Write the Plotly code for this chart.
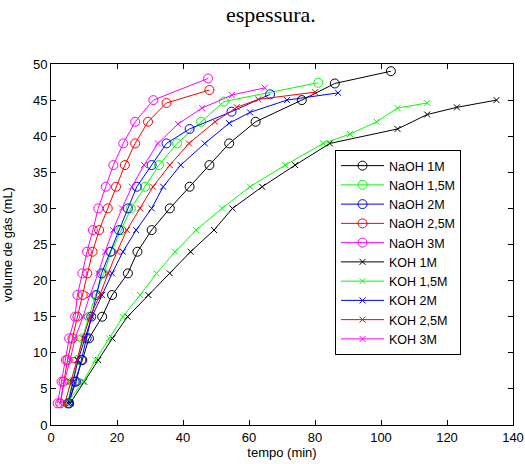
import plotly.graph_objects as go

# NaOH series (circles)
naoh1_x = [5.5, 7.2, 9.5, 11.5, 15.5, 18.5, 23.3, 26.2, 30.5, 36, 42, 48, 54, 62, 76, 86, 103]
naoh1_y = [3, 6, 9, 12, 15, 18, 21, 24, 27, 30, 33, 36, 39, 42, 45, 47.3, 49]

naoh15_x = [5, 6.5, 8, 9.5, 11.5, 13.5, 16, 18.2, 21.3, 24.2, 28.5, 32.7, 38.2, 45.5, 52.4, 81]
naoh15_y = [3, 6, 9, 12, 15, 18, 21, 24, 27, 30, 33, 36, 39, 42, 44.8, 47.4]

naoh2_x = [5.2, 7.6, 9.2, 10.8, 12.2, 13.8, 15.3, 18, 20.6, 23.3, 26, 30.5, 35, 42, 54.7, 66.4]
naoh2_y = [3, 6, 9, 12, 15, 18, 21, 24, 27, 30, 33, 36, 39, 41, 43.4, 45.8]

naoh25_x = [2.8, 3.8, 5, 6.5, 8, 9.6, 11, 12.6, 14.6, 17.2, 19.7, 22.4, 25.5, 29.4, 35, 48]
naoh25_y = [3, 6, 9, 12, 15, 18, 21, 24, 27, 30, 33, 36, 39, 42, 44.6, 46.4]

naoh3_x = [2, 3.2, 4.5, 5.5, 7.3, 8, 9.5, 10.9, 12.7, 14.3, 16.6, 18.9, 21.9, 25.5, 31, 47.6]
naoh3_y = [3, 6, 9, 12, 15, 18, 21, 24, 27, 30, 33, 36, 39, 42, 45, 48]

# KOH series (x markers)
koh1_x = [5.8, 10, 14.3, 18.6, 23.2, 29.5, 36, 42.3, 49.4, 55, 64, 74, 84.5, 105, 114, 123, 135]
koh1_y = [3, 6, 9, 12, 15, 18, 21, 24, 27, 30, 33, 36, 39, 41, 43, 44, 45]

koh15_x = [4.8, 9.7, 13.5, 17.6, 21.8, 27, 32, 37.6, 44, 51.8, 60.3, 71, 82.5, 90.6, 98.7, 105, 114]
koh15_y = [3, 6, 9, 12, 15, 18, 21, 24, 27, 30, 33, 36, 39, 40.3, 42, 43.9, 44.6]

koh2_x = [5.2, 6.8, 8.2, 10.3, 12.4, 15.5, 18.5, 21.8, 25.8, 30.5, 34, 39.3, 46.6, 54, 60.3, 71.5, 87]
koh2_y = [3, 6, 9, 12, 15, 18, 21, 24, 27, 30, 33, 36, 39, 41.8, 43.3, 45, 46]

koh25_x = [4.2, 6, 7.9, 9.7, 11.8, 14.8, 17.3, 20, 23, 27, 30.9, 36, 41.8, 49.7, 56.3, 62.8, 80]
koh25_y = [3, 6, 9, 12, 15, 18, 21, 24, 27, 30, 33, 36, 39, 42, 44, 45.1, 46.1]

koh3_x = [2.8, 4, 5.8, 7.3, 9.7, 11.8, 14.3, 16.4, 18.8, 21.5, 24.5, 28.2, 32.4, 38.5, 45.8, 54.8, 64.8]
koh3_y = [3, 6, 9, 12, 15, 18, 21, 24, 27, 30, 33, 36, 39, 41.7, 43.9, 45.7, 46.7]

names = ["NaOH 1M", "NaOH 1,5M", "NaOH 2M", "NaOH 2,5M", "NaOH 3M",
         "KOH 1M", "KOH 1,5M", "KOH 2M", "KOH 2,5M", "KOH 3M"]
colors = ["#000000", "#00ff00", "#0000ff", "#ff0000", "#ff00ff"]
xs = [naoh1_x, naoh15_x, naoh2_x, naoh25_x, naoh3_x, koh1_x, koh15_x, koh2_x, koh25_x, koh3_x]
ys = [naoh1_y, naoh15_y, naoh2_y, naoh25_y, naoh3_y, koh1_y, koh15_y, koh2_y, koh25_y, koh3_y]

fig = go.Figure()
for i, (n, x, y) in enumerate(zip(names, xs, ys)):
    c = colors[i % 5]
    is_naoh = i < 5
    fig.add_trace(go.Scatter(
        x=x, y=y, name=n, mode="lines+markers",
        line=dict(color=c, width=1),
        marker=dict(symbol="circle-open" if is_naoh else "x-thin-open",
                    size=9 if is_naoh else 6, color=c, line=dict(color=c, width=1)),
    ))

axis_font = dict(family="Arial, Liberation Sans, sans-serif", size=13, color="#000")
fig.update_xaxes(range=[0, 140], dtick=20, tick0=0, showgrid=False, zeroline=False,
                 showline=True, linecolor="black", linewidth=1, mirror="ticks",
                 ticks="inside", ticklen=5, tickcolor="black", tickfont=axis_font,
                 automargin=False,
                 title=dict(text="tempo (min)", font=axis_font, standoff=2))
fig.update_yaxes(range=[0, 50], dtick=5, tick0=0, showgrid=False, zeroline=False,
                 showline=True, linecolor="black", linewidth=1, mirror="ticks",
                 ticks="inside", ticklen=5, tickcolor="black", tickfont=axis_font,
                 automargin=False,
                 title=dict(text="volume de gás (mL)", font=axis_font, standoff=20))

plot_w = 462
plot_h = 361
fig.update_layout(
    width=525, height=464,
    margin=dict(l=51, r=12, t=64, b=39, autoexpand=False),
    paper_bgcolor="white", plot_bgcolor="white",
    legend=dict(x=(335 - 51) / plot_w, y=(425 - 150) / plot_h, xanchor="left", yanchor="top",
                bgcolor="white", bordercolor="black", borderwidth=1, itemwidth=43,
                font=dict(family="Arial, Liberation Sans, sans-serif", size=12.5, color="#000"),
                tracegroupgap=0),
    annotations=[dict(text="espessura.",
                      x=(271 - 51) / plot_w, y=1 + (64 - 15) / plot_h,
                      xref="paper", yref="paper", xanchor="center", yanchor="middle",
                      showarrow=False,
                      font=dict(family="Liberation Serif, Times New Roman, serif", size=22, color="#000"))],
)

fig.write_html("out.html", config={"displayModeBar": False},
               post_script="document.body.style.margin='0px';")
